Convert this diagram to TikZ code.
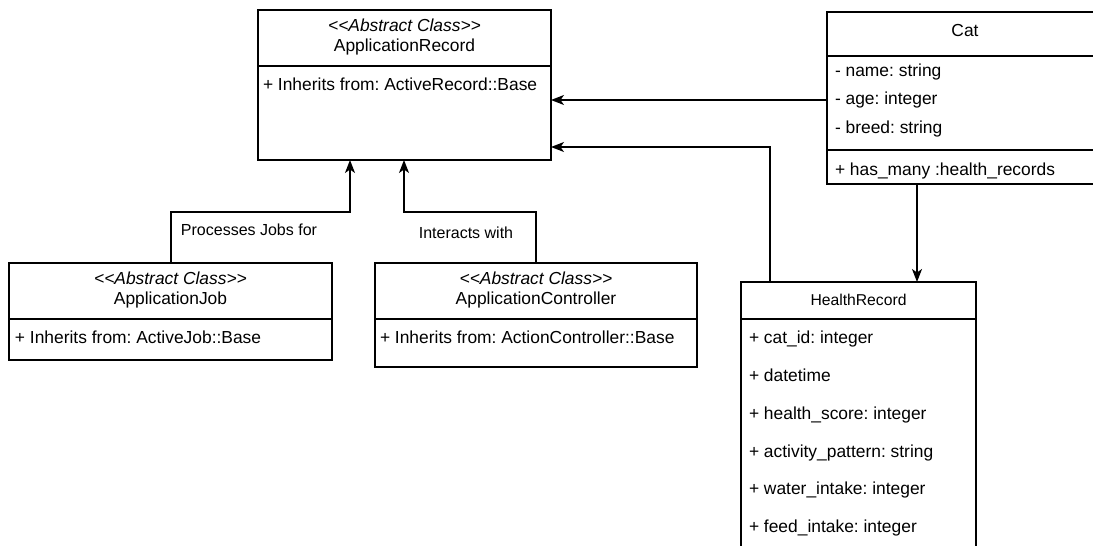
\documentclass[tikz,border=0pt]{standalone}
\usepackage{fontspec}
\setmainfont{Liberation Sans}[Ligatures=TeXOff]
\usetikzlibrary{arrows.meta,calc}
\frenchspacing
\begin{document}
\begin{tikzpicture}[x=1pt,y=-1pt,
  box/.style={draw, line width=1.3pt, rectangle, anchor=north west, inner sep=0pt, outer sep=0pt},
  txt/.style={inner sep=0pt, outer sep=0pt, font=\fontsize{17.4}{20}\selectfont\frenchspacing, text height=12.5pt, text depth=3.6pt},
  hdr/.style={inner sep=0pt, outer sep=0pt, font=\fontsize{15.7}{19}\selectfont, text height=11.3pt, text depth=3.3pt},
  lbl/.style={inner sep=0pt, outer sep=0pt, font=\fontsize{16}{19}\selectfont, text height=11.5pt, text depth=3.3pt},
  arr/.style={line width=1.3pt, -{Stealth[length=13pt,width=10pt,inset=3.5pt]}},
  sepline/.style={line width=1.3pt}
]
\path[use as bounding box, fill=white] (0,0) rectangle (1093,546);
\clip (0,0) rectangle (1093,546);

% ApplicationRecord
\node[box, minimum width=293pt, minimum height=150pt] (ar) at (258,10) {};
\draw[sepline] ($(ar.north west)+(0,56)$) -- ($(ar.north east)+(0,56)$);
\node[txt] (arst) at (404.5,27) {\itshape <<Abstract Class>>};
\node[txt] (arname) at (404.5,47) {ApplicationRecord};
\node[txt, anchor=west] (arattr) at (263,86) {+ Inherits from: ActiveRecord::Base};

% ApplicationJob
\node[box, minimum width=323pt, minimum height=97pt] (aj) at (9,263) {};
\draw[sepline] ($(aj.north west)+(0,56)$) -- ($(aj.north east)+(0,56)$);
\node[txt] (ajst) at (170.5,280) {\itshape <<Abstract Class>>};
\node[txt] (ajname) at (170.5,300) {ApplicationJob};
\node[txt, anchor=west] (ajattr) at (15,339) {+ Inherits from: ActiveJob::Base};

% ApplicationController
\node[box, minimum width=322pt, minimum height=104pt] (ac) at (375,263) {};
\draw[sepline] ($(ac.north west)+(0,56)$) -- ($(ac.north east)+(0,56)$);
\node[txt] (acst) at (536,280) {\itshape <<Abstract Class>>};
\node[txt] (acname) at (536,300) {ApplicationController};
\node[txt, anchor=west] (acattr) at (380,339) {+ Inherits from: ActionController::Base};

% Cat
\node[box, minimum width=300pt, minimum height=172pt] (cat) at (827,12) {};
\draw[sepline] ($(cat.north west)+(0,44)$) -- ($(cat.north east)+(0,44)$);
\draw[sepline] ($(cat.north west)+(0,138)$) -- ($(cat.north east)+(0,138)$);
\node[txt] (catname) at (965,32) {Cat};
\node[txt, anchor=west] (cname) at (835,72) {- name: string};
\node[txt, anchor=west] (cage) at (835,100) {- age: integer};
\node[txt, anchor=west] (cbreed) at (835,129) {- breed: string};
\node[txt, anchor=west] (chas) at (835,171) {+ has\_many :health\_records};

% HealthRecord
\node[box, minimum width=235pt, minimum height=300pt] (hr) at (741,282) {};
\draw[sepline] ($(hr.north west)+(0,37)$) -- ($(hr.north east)+(0,37)$);
\node[hdr] (hrname) at (858.5,301) {HealthRecord};
\node[txt, anchor=west] (h1) at (749,339) {+ cat\_id: integer};
\node[txt, anchor=west] (h2) at (749,377) {+ datetime};
\node[txt, anchor=west] (h3) at (749,415) {+ health\_score: integer};
\node[txt, anchor=west] (h4) at (749,453) {+ activity\_pattern: string};
\node[txt, anchor=west] (h5) at (749,490) {+ water\_intake: integer};
\node[txt, anchor=west] (h6) at (749,528) {+ feed\_intake: integer};

% connectors
\draw[arr] (cat.west |- cage) -- (ar.east |- cage);
\draw[arr] ($(hr.north west)+(29,0)$) |- ($(ar.south east)+(0,-13)$);
\draw[arr] ($(cat.south west)+(90,0)$) -- ($(hr.north west)+(176,0)$);
\draw[arr] ($(aj.north west)+(162,0)$) -- ++(0,-51) -| ($(ar.south west)+(92,0)$);
\draw[arr] ($(ac.north west)+(161,0)$) -- ++(0,-51) -| ($(ar.south west)+(146,0)$);

\node[lbl] (l1) at (249,231) {Processes Jobs for};
\node[lbl] (l2) at (466,234) {Interacts with};
\end{tikzpicture}
\end{document}
